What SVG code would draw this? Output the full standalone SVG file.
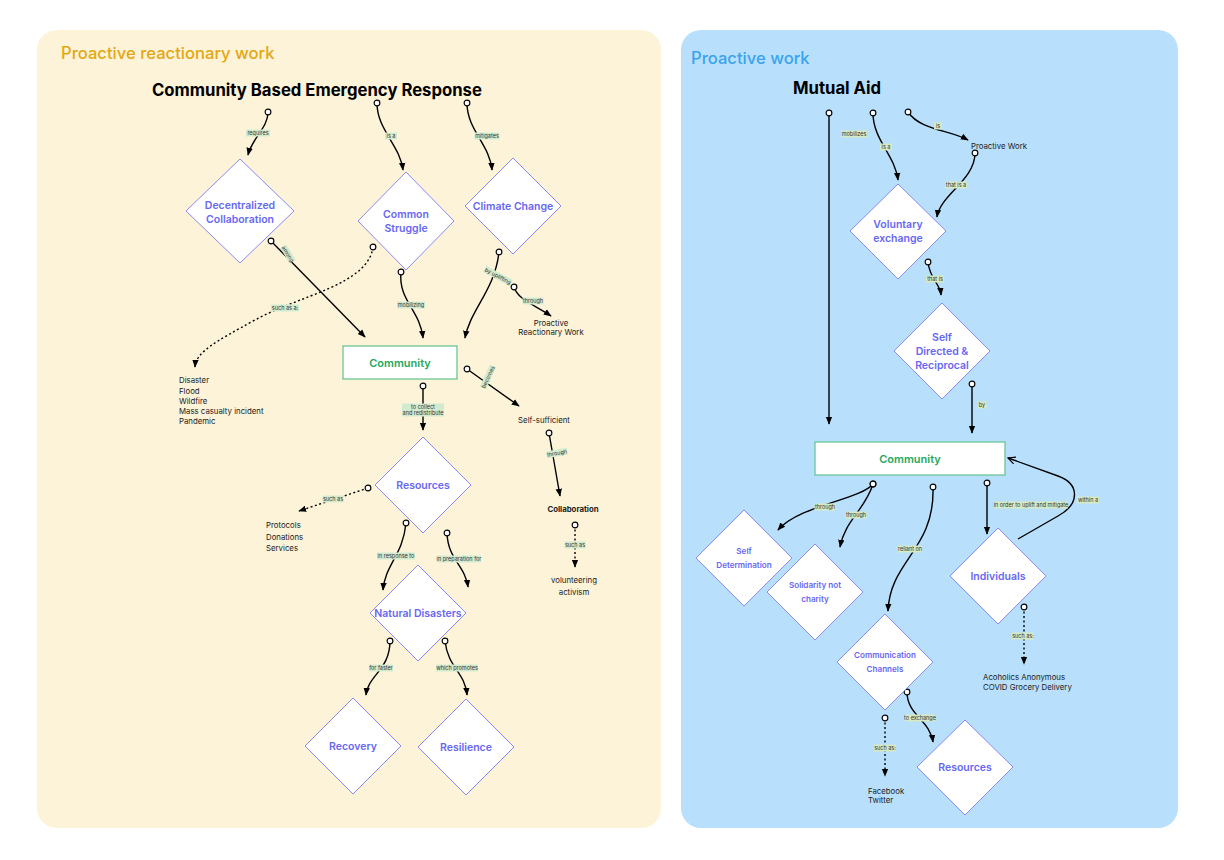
<svg xmlns="http://www.w3.org/2000/svg" width="1224" height="860" viewBox="0 0 1224 860">
<style>
text{font-family:Inter,"Liberation Sans",sans-serif}
.ptitle{font-size:16.6px;font-weight:500}
.htitle{font-size:16.7px;font-weight:700;fill:#000}
.dia{fill:#fff;stroke:#8a8af2;stroke-width:1}
.dt{font-size:10.5px;font-weight:600;fill:#6767f2;text-anchor:middle;dominant-baseline:central}
.dts{font-size:8.1px;font-weight:600;fill:#6767f2;text-anchor:middle;dominant-baseline:central}
.box{fill:#fff;stroke:#62c28f;stroke-width:1.2}
.bt{font-size:11px;font-weight:600;fill:#27a85d;text-anchor:middle;dominant-baseline:central}
.plain{font-size:7.8px;fill:#222}
.mid{text-anchor:middle}
.c{fill:none;stroke:#000;stroke-width:1.4;marker-start:url(#dot);marker-end:url(#arr)}
.d{stroke-dasharray:2 2.5}
.lbl rect{fill:#d2ebcf}
.lblr rect{fill:#d6eac4}
.lbl text,.lblr text{font-size:5.5px;fill:#333;text-anchor:middle;dominant-baseline:central}
</style>
<defs>
<marker id="arr" viewBox="0 0 10 10" refX="9" refY="5" markerWidth="8" markerHeight="8" orient="auto" markerUnits="userSpaceOnUse"><path d="M0,1 L10,5 L0,9 z" fill="#000"/></marker>
<marker id="dot" viewBox="0 0 10 10" refX="5" refY="5" markerWidth="8" markerHeight="8" markerUnits="userSpaceOnUse"><circle cx="5" cy="5" r="3.6" fill="#fff" stroke="#000" stroke-width="1.4"/></marker>
<marker id="open" viewBox="0 0 10 10" refX="9" refY="5" markerWidth="9" markerHeight="9" orient="auto" markerUnits="userSpaceOnUse"><path d="M1,1 L9,5 L1,9" fill="none" stroke="#000" stroke-width="1.3"/></marker>
</defs>
<rect width="1224" height="860" fill="#fff"/>
<g id="panel-left">
<rect x="37" y="30" width="624" height="798" rx="20" fill="#fdf3d8"/>
<text x="61" y="59" class="ptitle" fill="#e3a712">Proactive reactionary work</text>
<text x="152" y="96" class="htitle">Community Based Emergency Response</text>
</g>
<g id="panel-right">
<rect x="681" y="30" width="497" height="798" rx="20" fill="#b8e0fc"/>
<text x="691" y="64" class="ptitle" fill="#3aa3ee">Proactive work</text>
<text x="793" y="94" class="htitle">Mutual Aid</text>
</g>

<g id="connectors">
<path class="c" d="M268,112 C268,128 252,138 248,155"/>
<path class="c" d="M377,103 C377,130 400,145 403,170"/>
<path class="c" d="M467,103 C467,130 490,145 492,170"/>
<path class="c" d="M271,241 L365,337"/>
<path class="c d" d="M373,247 C368,285 300,295 255,320 C215,342 196,352 195,367"/>
<path class="c" d="M401,272 C398,300 420,310 423,338"/>
<path class="c" d="M499,252 C495,290 470,310 465,338"/>
<path class="c" d="M514,287 C518,300 535,305 551,316"/>
<path class="c" d="M467,369 L519,406"/>
<path class="c" d="M423,386 L423,430"/>
<path class="c" d="M549,433 L560,496"/>
<path class="c d" d="M575,525 L575,567"/>
<path class="c d" d="M368,488 L299,511"/>
<path class="c" d="M406,523 C403,555 385,565 383,590"/>
<path class="c" d="M447,533 C448,560 465,565 468,587"/>
<path class="c" d="M390,641 C390,670 368,675 366,695"/>
<path class="c" d="M445,641 C448,668 465,672 467,695"/>

<path class="c" d="M829,113 L829,424"/>
<path class="c" d="M873,113 C873,140 895,155 898,180"/>
<path class="c" d="M908,112 C920,130 950,130 968,140"/>
<path class="c" d="M975,153 C975,180 940,195 937,217"/>
<path class="c" d="M928,262 C930,280 940,283 941,295"/>
<path class="c" d="M972,384 L972,433"/>
<path class="c" d="M873,484 C860,500 800,505 778,530"/>
<path class="c" d="M873,484 C865,510 845,520 840,547"/>
<path class="c" d="M933,487 C935,550 890,560 888,611"/>
<path class="c" d="M987,483 L987,534"/>
<path d="M1018,539 L1058,516 C1080,504 1080,484 1058,476 L1008,458" fill="none" stroke="#000" stroke-width="1.4" marker-end="url(#open)"/>
<path class="c d" d="M1024,607 L1024,664"/>
<path class="c d" d="M885,718 L885,776"/>
<path class="c" d="M907,692 C907,715 930,720 933,742"/>

<g class="lbl">
<g transform="translate(258,133)"><rect x="-12" y="-3.5" width="24" height="7"/><text>requires</text></g>
<g transform="translate(391,136)"><rect x="-6" y="-3.5" width="12" height="7"/><text>is a</text></g>
<g transform="translate(487,136)"><rect x="-12.5" y="-3.5" width="25" height="7"/><text>mitigates</text></g>
<g transform="translate(288,254) rotate(58)"><rect x="-9" y="-3.5" width="18" height="7"/><text>among</text></g>
<g transform="translate(285,308)"><rect x="-14" y="-3.5" width="28" height="7"/><text>such as a:</text></g>
<g transform="translate(411,305)"><rect x="-14" y="-3.5" width="28" height="7"/><text>mobilizing</text></g>
<g transform="translate(498,276) rotate(28)"><rect x="-15" y="-3.5" width="30" height="7"/><text>by uplifting</text></g>
<g transform="translate(533,301)"><rect x="-10.5" y="-3.5" width="21" height="7"/><text>through</text></g>
<g transform="translate(488,377) rotate(-65)"><rect x="-12" y="-3.5" width="24" height="7"/><text>becomes</text></g>
<g transform="translate(423,410)"><rect x="-21" y="-6.5" width="42" height="13"/><text y="-2.7">to collect</text><text y="2.7">and redistribute</text></g>
<g transform="translate(557,453) rotate(-10)"><rect x="-10.5" y="-3.5" width="21" height="7"/><text>through</text></g>
<g transform="translate(575,545)"><rect x="-10.5" y="-3.5" width="21" height="7"/><text>such as</text></g>
<g transform="translate(333,499)"><rect x="-10.5" y="-3.5" width="21" height="7"/><text>such as</text></g>
<g transform="translate(396,556)"><rect x="-19" y="-3.5" width="38" height="7"/><text>in response to</text></g>
<g transform="translate(459,559)"><rect x="-22" y="-3.5" width="44" height="7"/><text>in preparation for</text></g>
<g transform="translate(381,668)"><rect x="-12" y="-3.5" width="24" height="7"/><text>for faster</text></g>
<g transform="translate(457,668)"><rect x="-21" y="-3.5" width="42" height="7"/><text>which promotes</text></g>
</g>
<g class="lblr">
<g transform="translate(854,134)"><rect x="-13" y="-3.5" width="26" height="7"/><text>mobilizes</text></g>
<g transform="translate(886,147)"><rect x="-6" y="-3.5" width="12" height="7"/><text>is a</text></g>
<g transform="translate(938,126)"><rect x="-4" y="-3.5" width="8" height="7"/><text>is</text></g>
<g transform="translate(956,185)"><rect x="-11" y="-3.5" width="22" height="7"/><text>that is a</text></g>
<g transform="translate(935,279)"><rect x="-9" y="-3.5" width="18" height="7"/><text>that is</text></g>
<g transform="translate(982,405)"><rect x="-4.5" y="-3.5" width="9" height="7"/><text>by</text></g>
<g transform="translate(825,507)"><rect x="-10.5" y="-3.5" width="21" height="7"/><text>through</text></g>
<g transform="translate(856,515)"><rect x="-10.5" y="-3.5" width="21" height="7"/><text>through</text></g>
<g transform="translate(910,549)"><rect x="-12" y="-3.5" width="24" height="7"/><text>reliant on</text></g>
<g transform="translate(1031,505)"><rect x="-37" y="-3.5" width="74" height="7"/><text>in order to uplift and mitigate</text></g>
<g transform="translate(1088,500)"><rect x="-11" y="-3.5" width="22" height="7"/><text>within a</text></g>
<g transform="translate(1023,636)"><rect x="-11" y="-3.5" width="22" height="7"/><text>such as:</text></g>
<g transform="translate(885,748)"><rect x="-11" y="-3.5" width="22" height="7"/><text>such as:</text></g>
<g transform="translate(920,718)"><rect x="-15" y="-3.5" width="30" height="7"/><text>to exchange</text></g>
</g>
</g>

<g id="n-decentralized"><path class="dia" d="M240,159 L294,211 L240,263 L186,211 Z"/><text class="dt" x="240" y="205">Decentralized</text><text class="dt" x="240" y="219">Collaboration</text></g>
<g id="n-common-struggle"><path class="dia" d="M406,172 L454,221 L406,270 L358,221 Z"/><text class="dt" x="406" y="214">Common</text><text class="dt" x="406" y="228">Struggle</text></g>
<g id="n-climate"><path class="dia" d="M513,158 L561,206 L513,254 L465,206 Z"/><text class="dt" x="513" y="206">Climate Change</text></g>
<g id="n-community-left"><rect class="box" x="343" y="346" width="114" height="33"/><text class="bt" x="400" y="363">Community</text></g>
<g id="n-resources-left"><path class="dia" d="M423,437 L471,485 L423,533 L375,485 Z"/><text class="dt" x="423" y="485">Resources</text></g>
<g id="n-natural"><path class="dia" d="M418,565 L466,613 L418,661 L370,613 Z"/><text class="dt" x="418" y="613">Natural Disasters</text></g>
<g id="n-recovery"><path class="dia" d="M353,698 L401,746 L353,794 L305,746 Z"/><text class="dt" x="353" y="746">Recovery</text></g>
<g id="n-resilience"><path class="dia" d="M466,699 L514,747 L466,795 L418,747 Z"/><text class="dt" x="466" y="747">Resilience</text></g>
<g id="t-disaster-list"><text class="plain" x="179" y="383">Disaster</text><text class="plain" x="179" y="394">Flood</text><text class="plain" x="179" y="404">Wildfire</text><text class="plain" x="179" y="414">Mass casualty incident</text><text class="plain" x="179" y="424">Pandemic</text></g>
<g id="t-proactive-reactionary"><text class="plain mid" x="551" y="326">Proactive</text><text class="plain mid" x="551" y="335">Reactionary Work</text></g>
<g id="t-self-sufficient"><text class="plain mid" x="544" y="423">Self-sufficient</text></g>
<g id="t-collaboration"><text class="plain mid" x="573" y="512" font-weight="700">Collaboration</text></g>
<g id="t-volunteering"><text class="plain mid" x="574" y="583">volunteering</text><text class="plain mid" x="574" y="595">activism</text></g>
<g id="t-protocols"><text class="plain" x="266" y="528">Protocols</text><text class="plain" x="266" y="540">Donations</text><text class="plain" x="266" y="551">Services</text></g>

<g id="n-voluntary"><path class="dia" d="M898,184 L946,231 L898,279 L850,231 Z"/><text class="dt" x="898" y="224">Voluntary</text><text class="dt" x="898" y="238">exchange</text></g>
<g id="t-proactive-work"><text class="plain mid" x="999" y="149">Proactive Work</text></g>
<g id="n-self-directed"><path class="dia" d="M942,303 L990,351 L942,399 L894,351 Z"/><text class="dt" x="942" y="337">Self</text><text class="dt" x="942" y="351">Directed &amp;</text><text class="dt" x="942" y="365">Reciprocal</text></g>
<g id="n-community-right"><rect class="box" x="815" y="442" width="190" height="33"/><text class="bt" x="910" y="459">Community</text></g>
<g id="n-self-determination"><path class="dia" d="M744,510 L792,558 L744,606 L696,558 Z"/><text class="dts" x="744" y="551">Self</text><text class="dts" x="744" y="565">Determination</text></g>
<g id="n-solidarity"><path class="dia" d="M815,544 L863,592 L815,640 L767,592 Z"/><text class="dts" x="815" y="585">Solidarity not</text><text class="dts" x="815" y="599">charity</text></g>
<g id="n-communication"><path class="dia" d="M885,614 L933,662 L885,710 L837,662 Z"/><text class="dts" x="885" y="655">Communication</text><text class="dts" x="885" y="669">Channels</text></g>
<g id="n-individuals"><path class="dia" d="M998,528 L1046,576 L998,624 L950,576 Z"/><text class="dt" x="998" y="576">Individuals</text></g>
<g id="n-resources-right"><path class="dia" d="M965,720 L1013,767 L965,815 L917,767 Z"/><text class="dt" x="965" y="767">Resources</text></g>
<g id="t-acoholics"><text class="plain" x="983" y="680">Acoholics Anonymous</text><text class="plain" x="983" y="690">COVID Grocery Delivery</text></g>
<g id="t-facebook"><text class="plain" x="868" y="794">Facebook</text><text class="plain" x="868" y="803">Twitter</text></g>
</svg>
